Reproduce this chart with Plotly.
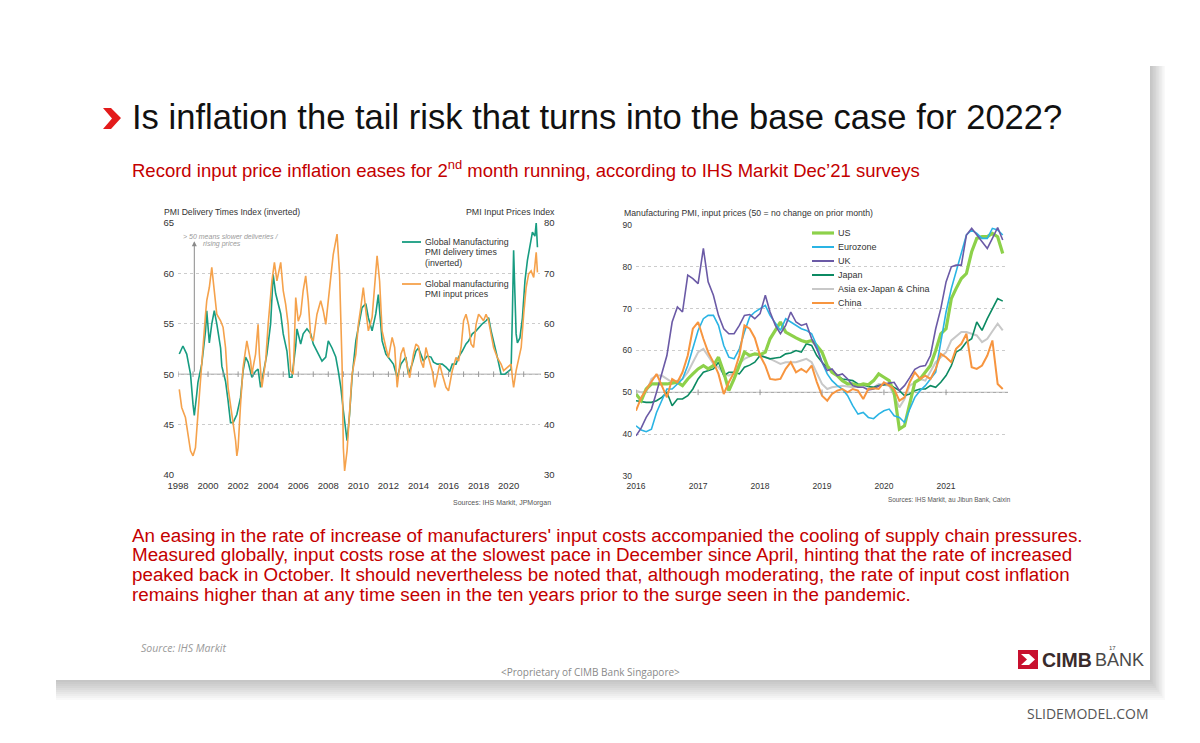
import plotly.graph_objects as go
import pandas as pd

W, H = 1200, 743


def px(x):
    return x / W


def py(y):
    return 1 - y / H


# ---------------- Left chart data (month offsets from Jan 1998) ----------------
left_start = "1998-01-01"
delivery_months = [1, 4, 7, 10, 12, 13, 15, 16, 19, 22,
                   23, 25, 27, 29, 31, 34, 35, 38, 40, 42,
                   44, 47, 50, 52, 54, 56, 59, 62, 64, 66,
                   68, 71, 74, 76, 78, 82, 84, 87, 89, 91,
                   94, 95, 98, 100, 103, 106, 108, 111, 115, 118,
                   120, 123, 126, 128, 130, 132, 134, 135, 137, 139,
                   142, 144, 147, 150, 152, 155, 158, 160, 161, 163,
                   166, 170, 172, 175, 178, 182, 184, 187, 190, 192,
                   194, 196, 199, 202, 204, 207, 211, 214, 217, 219,
                   222, 224, 227, 230, 232, 235, 238, 240, 243, 246,
                   248, 250, 252, 255, 258, 261, 264, 266, 267, 268,
                   269, 270, 271, 273, 275, 277, 279, 281, 283, 285,
                   286, 287]
delivery_values = [52.0, 52.8, 52.0, 50.0, 47.0, 45.9, 48.0, 49.2, 51.0, 54.3,
                   56.3, 53.1, 55.0, 56.3, 55.0, 52.6, 50.8, 49.3, 47.4, 45.2,
                   45.2, 46.0, 47.7, 50.3, 51.7, 51.2, 49.7, 50.3, 50.5, 48.7,
                   50.0, 52.0, 55.0, 59.9, 58.0, 56.0, 54.0, 52.3, 49.7, 49.7,
                   52.8, 54.5, 53.0, 54.0, 54.5, 54.0, 53.0, 52.3, 51.3, 51.7,
                   53.3, 52.6, 51.7, 50.3, 48.7, 46.4, 44.7, 43.4, 46.0, 49.7,
                   53.3, 54.6, 56.6, 57.0, 55.6, 54.3, 56.0, 57.9, 56.0, 53.3,
                   52.0, 51.3, 51.0, 49.7, 51.0, 51.7, 50.0, 51.0, 52.3, 52.6,
                   52.0, 51.3, 51.8, 51.7, 51.2, 51.0, 51.0, 50.7, 50.3, 51.0,
                   51.0, 51.7, 52.3, 53.0, 53.3, 54.0, 54.3, 54.6, 55.0, 55.3,
                   55.6, 54.3, 53.3, 51.7, 50.0, 50.0, 50.3, 50.5, 56.0, 62.3,
                   58.0, 54.0, 53.1, 53.6, 55.6, 59.3, 61.3, 62.7, 64.1, 63.7,
                   65.0, 62.6]
input_months = [1, 3, 6, 8, 10, 12, 14, 16, 18, 20,
                22, 23, 25, 27, 28, 30, 31, 34, 36, 38,
                40, 43, 46, 47, 48, 50, 52, 55, 58, 59,
                62, 64, 65, 67, 70, 72, 75, 77, 79, 82,
                84, 86, 88, 90, 92, 93, 94, 96, 98, 100,
                102, 104, 106, 108, 111, 114, 116, 118, 120, 122,
                124, 126, 127, 129, 131, 132, 133, 135, 137, 139,
                142, 144, 146, 148, 150, 152, 155, 157, 159, 161,
                163, 166, 168, 171, 173, 175, 178, 180, 183, 185,
                188, 190, 192, 194, 196, 198, 200, 203, 205, 207,
                209, 211, 214, 216, 219, 222, 224, 226, 228, 230,
                232, 234, 236, 238, 240, 242, 244, 246, 248, 250,
                252, 255, 258, 260, 263, 266, 267, 268, 270, 272,
                274, 276, 278, 280, 282, 284, 286, 287]
input_values = [47.0, 43.4, 41.4, 38.1, 34.8, 33.8, 35.4, 42.1, 49.3, 55.3,
                61.9, 64.6, 67.2, 71.2, 68.5, 64.6, 61.9, 60.6, 59.3, 55.3,
                47.4, 42.1, 36.8, 33.8, 35.4, 44.0, 51.3, 56.6, 52.6, 50.0,
                54.0, 59.9, 54.0, 47.4, 52.6, 59.9, 68.5, 72.2, 68.5, 72.2,
                66.6, 63.9, 59.9, 50.7, 50.0, 57.0, 65.2, 60.5, 61.9, 66.6,
                69.5, 64.6, 57.3, 56.6, 61.9, 64.6, 62.6, 59.9, 65.2, 69.2,
                73.8, 76.5, 77.8, 69.9, 52.0, 35.4, 30.8, 34.8, 42.1, 50.0,
                54.0, 59.9, 63.2, 67.2, 62.6, 58.6, 61.3, 68.5, 73.5, 68.5,
                58.6, 55.3, 53.3, 57.3, 55.3, 47.4, 54.0, 55.3, 51.3, 49.3,
                54.0, 56.0, 55.5, 52.6, 51.3, 55.3, 53.3, 50.7, 47.4, 50.0,
                52.0, 50.0, 47.4, 46.7, 50.7, 53.3, 52.6, 55.3, 60.6, 61.9,
                59.9, 56.0, 55.3, 59.9, 61.9, 61.3, 60.6, 61.9, 60.6, 57.9,
                55.3, 53.3, 52.0, 50.7, 51.3, 52.0, 49.3, 47.4, 50.7, 53.3,
                55.3, 61.9, 67.2, 69.9, 70.5, 69.2, 74.2, 70.2]
left_tick_years = [1998, 2000, 2002, 2004, 2006, 2008, 2010, 2012, 2014, 2016, 2018, 2020]
left_y_ticks = [40, 45, 50, 55, 60, 65]
right_axis_ticks = [30, 40, 50, 60, 70, 80]

# ---------------- Right chart data (monthly from Jan 2016) ----------------
right_start = "2016-01-01"
right_months = list(range(72))
us_values = [49.6, 48.0, 50.8, 52.0, 52.0, 52.0, 52.0, 52.2, 52.4, 51.6,
             53.2, 54.4, 55.6, 56.4, 55.6, 56.4, 58.4, 54.8, 50.4, 53.2,
             56.4, 59.6, 58.8, 59.2, 59.0, 59.6, 62.8, 65.0, 66.8, 64.4,
             63.6, 63.0, 62.4, 62.0, 62.4, 61.2, 59.6, 56.4, 54.8, 54.0,
             52.8, 52.0, 52.0, 51.6, 52.0, 51.8, 52.8, 54.4, 53.6, 52.8,
             50.0, 41.2, 42.0, 47.6, 52.4, 53.2, 54.8, 56.4, 60.0, 64.0,
             65.2, 72.4, 74.8, 77.2, 78.4, 83.6, 86.8, 87.2, 87.2, 88.0,
             87.2, 83.2]
eurozone_values = [42.0, 41.0, 40.6, 41.2, 45.2, 48.0, 50.8, 50.8, 52.0, 53.2,
                   56.4, 60.4, 64.8, 67.6, 68.4, 68.4, 66.0, 61.2, 58.4, 58.0,
                   60.4, 64.4, 68.0, 69.2, 70.0, 70.8, 68.4, 66.5, 64.8, 67.6,
                   66.8, 66.0, 65.2, 64.8, 64.0, 61.2, 57.2, 54.4, 52.8, 51.6,
                   50.8, 49.2, 46.8, 44.8, 45.2, 44.0, 43.7, 44.8, 45.6, 46.0,
                   44.4, 44.0, 42.8, 46.0, 48.8, 50.4, 51.6, 53.2, 54.8, 62.0,
                   69.2, 74.8, 78.8, 83.6, 87.6, 88.8, 88.0, 86.8, 86.8, 89.2,
                   88.8, 87.6]
uk_values = [39.6, 41.5, 44.0, 46.0, 50.0, 54.8, 58.8, 66.8, 70.4, 69.2,
             78.0, 77.2, 76.0, 84.4, 76.4, 73.2, 68.4, 65.2, 64.0, 64.0,
             66.0, 68.4, 68.6, 67.6, 68.8, 73.2, 69.2, 66.0, 64.0, 66.0,
             69.2, 66.8, 66.0, 66.4, 62.8, 60.4, 57.2, 55.2, 55.6, 54.0,
             54.4, 53.2, 51.6, 51.2, 51.2, 50.6, 50.8, 51.5, 52.0, 52.2,
             52.4, 50.4, 51.6, 53.5, 55.5, 56.2, 56.4, 58.8, 65.2, 70.0,
             76.4, 80.0, 80.4, 80.4, 87.6, 89.2, 87.6, 86.0, 84.4, 86.8,
             89.4, 86.4]
japan_values = [48.0, 47.8, 47.6, 47.6, 48.0, 48.8, 50.0, 46.8, 48.4, 48.4,
                49.2, 50.8, 53.2, 54.8, 55.2, 55.6, 57.2, 54.0, 54.8, 54.8,
                54.4, 56.0, 56.5, 57.2, 58.8, 58.4, 58.0, 58.2, 58.4, 59.2,
                59.4, 60.0, 59.6, 61.6, 61.2, 58.8, 57.2, 56.0, 54.8, 54.0,
                53.2, 53.0, 52.8, 52.0, 51.8, 51.4, 51.2, 51.6, 51.8, 52.0,
                51.2, 50.4, 49.2, 49.6, 50.4, 50.8, 50.8, 51.6, 51.2, 52.4,
                54.0, 56.4, 59.6, 60.4, 62.0, 62.8, 66.8, 64.8, 67.6, 70.0,
                72.4, 71.8]
asia_values = [50.4, 50.0, 50.0, 53.2, 54.0, 54.0, 53.2, 52.4, 52.8, 53.2,
               54.8, 57.2, 59.6, 60.4, 58.8, 56.8, 56.0, 54.4, 54.0, 54.8,
               56.8, 58.0, 58.6, 59.2, 58.8, 58.4, 58.0, 57.4, 56.8, 57.2,
               57.2, 57.2, 57.6, 58.0, 57.2, 54.8, 52.0, 50.8, 51.2, 51.4,
               51.6, 51.4, 51.2, 51.4, 51.6, 51.4, 51.2, 52.0, 51.8, 51.6,
               49.2, 46.4, 48.4, 51.6, 52.4, 53.2, 52.8, 54.8, 57.2, 58.4,
               59.6, 62.4, 63.4, 64.4, 64.4, 64.0, 63.6, 62.0, 62.8, 64.6,
               66.4, 64.8]
china_values = [45.6, 48.8, 50.6, 52.4, 54.4, 51.6, 48.8, 53.2, 52.4, 54.8,
                58.8, 65.2, 66.8, 62.8, 59.6, 57.2, 54.4, 49.6, 52.4, 54.8,
                58.8, 66.0, 65.2, 63.0, 58.8, 56.4, 53.2, 53.0, 53.2, 55.6,
                57.2, 54.8, 55.6, 54.8, 56.4, 52.5, 49.2, 48.0, 49.6, 50.4,
                50.8, 50.0, 50.8, 50.4, 48.4, 50.8, 51.0, 50.8, 52.4, 51.6,
                50.8, 48.0, 48.8, 52.4, 54.8, 53.2, 54.0, 53.2, 55.6, 59.2,
                58.4, 57.2, 60.4, 61.6, 64.0, 56.0, 55.6, 56.4, 58.8, 62.4,
                52.0, 50.8]
right_tick_years = [2016, 2017, 2018, 2019, 2020, 2021]
right_y_ticks = [30, 40, 50, 60, 70, 80, 90]

right_series = [
    ("Asia ex-Japan & China", asia_values, "#c8c8c8", 2.0),
    ("Japan", japan_values, "#0b8a62", 1.6),
    ("US", us_values, "#8dd14a", 3.2),
    ("Eurozone", eurozone_values, "#2ab4e4", 1.6),
    ("UK", uk_values, "#6b5aa6", 1.6),
    ("China", china_values, "#f7953f", 2.0),
]
legend_order = ["US", "Eurozone", "UK", "Japan", "Asia ex-Japan & China", "China"]

GREEN = "#179c81"
ORANGE = "#f5a24c"
RED = "#c40000"
FONT = "Liberation Sans, Arial, sans-serif"


def to_dates(start, months):
    base = pd.Timestamp(start)
    return [base + pd.DateOffset(months=int(m)) for m in months]


fig = go.Figure()

# ---- left chart traces ----
fig.add_trace(go.Scatter(x=to_dates(left_start, delivery_months), y=delivery_values,
                         mode="lines", line=dict(color=GREEN, width=1.6),
                         xaxis="x", yaxis="y", name="delivery"))
fig.add_trace(go.Scatter(x=to_dates(left_start, input_months), y=input_values,
                         mode="lines", line=dict(color=ORANGE, width=1.6),
                         xaxis="x", yaxis="y2", name="input"))
fig.add_trace(go.Scatter(x=[pd.Timestamp(f"{y}-01-01") for y in range(1998, 2022)],
                         y=[50] * 24, mode="markers", xaxis="x", yaxis="y",
                         marker=dict(symbol="line-ns-open", size=4, color="#999",
                                     line=dict(width=1, color="#999")),
                         hoverinfo="skip"))

# ---- right chart traces ----
rdates = to_dates(right_start, right_months)
for name, vals, col, w in right_series:
    fig.add_trace(go.Scatter(x=rdates, y=vals, mode="lines", name=name,
                             line=dict(color=col, width=w), xaxis="x2", yaxis="y3"))
fig.add_trace(go.Scatter(x=[pd.Timestamp(f"{y}-01-01") for y in right_tick_years],
                         y=[50] * len(right_tick_years), mode="markers", xaxis="x2", yaxis="y3",
                         marker=dict(symbol="line-ns-open", size=4, color="#999",
                                     line=dict(width=1, color="#999")),
                         hoverinfo="skip"))

shapes = []
# slide shadow + card
for k in range(1, 11):
    shapes.append(dict(type="rect", xref="paper", yref="paper", layer="below",
                       x0=px(56), x1=px(1150 + k * 1.5), y0=py(680 + k * 2.0), y1=py(66),
                       line=dict(width=0), fillcolor="rgba(0,0,0,0.022)"))
shapes.append(dict(type="rect", xref="paper", yref="paper", layer="below",
                   x0=px(52), x1=px(1150), y0=py(680), y1=py(62),
                   line=dict(width=0), fillcolor="white"))
# 50 reference lines
shapes.append(dict(type="line", xref="paper", yref="y", x0=px(178), x1=px(541), y0=50, y1=50,
                   layer="below", line=dict(color="#9a9a9a", width=1)))
shapes.append(dict(type="line", xref="paper", yref="y3", x0=px(637), x1=px(1008), y0=50, y1=50,
                   layer="below", line=dict(color="#9a9a9a", width=1)))
# bullet chevron
chev = [(103, 108), (111, 108), (121, 118), (111, 129), (103, 129), (112, 118.5)]
path = "M " + " L ".join(f"{px(a)},{py(b)}" for a, b in chev) + " Z"
shapes.append(dict(type="path", xref="paper", yref="paper", path=path,
                   fillcolor="#e31b1b", line=dict(width=0)))
# left legend samples
shapes.append(dict(type="line", xref="paper", yref="paper", x0=px(402), x1=px(421),
                   y0=py(242), y1=py(242), line=dict(color=GREEN, width=1.8)))
shapes.append(dict(type="line", xref="paper", yref="paper", x0=px(402), x1=px(421),
                   y0=py(284), y1=py(284), line=dict(color=ORANGE, width=1.8)))
# right legend samples
style = {n: (c, w) for n, _, c, w in right_series}
for i, n in enumerate(legend_order):
    yy = 233 + i * 14
    c, w = style[n]
    shapes.append(dict(type="line", xref="paper", yref="paper", x0=px(812), x1=px(834),
                       y0=py(yy), y1=py(yy), line=dict(color=c, width=max(w, 2))))
# CIMB logo square
shapes.append(dict(type="rect", xref="paper", yref="paper", x0=px(1018), x1=px(1038),
                   y0=py(669), y1=py(650), fillcolor="#c8102e", line=dict(width=0)))
logo = [(1021, 654), (1029, 654), (1035, 659.5), (1029, 665), (1021, 665), (1027, 659.5)]
shapes.append(dict(type="path", xref="paper", yref="paper",
                   path="M " + " L ".join(f"{px(a)},{py(b)}" for a, b in logo) + " Z",
                   fillcolor="white", line=dict(width=0)))

ann = []


def txt(x, y, s, size, color="#333", xanchor="left", yanchor="middle", family=FONT, **kw):
    ann.append(dict(x=px(x), y=py(y), xref="paper", yref="paper", text=s, showarrow=False,
                    xanchor=xanchor, yanchor=yanchor,
                    font=dict(size=size, color=color, family=family), **kw))


# title & subtitle
txt(130, 117, "Is inflation the tail risk that turns into the base case for 2022?", 34.6,
    color="#111")
txt(130, 169, "Record input price inflation eases for 2<sup>nd</sup> month running, according to IHS Markit Dec’21 surveys",
    18.5, color=RED)

# left chart texts
txt(162, 212, "PMI Delivery Times Index (inverted)", 8.6, color="#333")
txt(557, 212, "PMI Input Prices Index", 8.8, color="#333", xanchor="right")
txt(553, 503, "Sources: IHS Markit, JPMorgan", 7, color="#555", xanchor="right")
txt(230, 236, "<i>&gt; 50 means slower deliveries /</i>", 7, color="#9a9a9a", xanchor="center")
txt(222, 244, "<i>rising prices</i>", 7, color="#9a9a9a", xanchor="center")
for i, line in enumerate(["Global Manufacturing", "PMI delivery times", "(inverted)"]):
    txt(423, 242 + i * 10.5, line, 8.8, color="#333")
for i, line in enumerate(["Global manufacturing", "PMI input prices"]):
    txt(423, 284 + i * 10.5, line, 8.8, color="#333")
# arrow
ann.append(dict(x=pd.Timestamp("1999-02-01"), y=63.2, xref="x", yref="y",
                ax=pd.Timestamp("1999-02-01"), ay=50, axref="x", ayref="y",
                text=" ", showarrow=True, arrowhead=2, arrowsize=1, arrowwidth=1,
                arrowcolor="#8a8a8a", font=dict(size=2)))

# right chart texts
txt(622, 213, "Manufacturing PMI, input prices (50 = no change on prior month)", 8.7, color="#333")
txt(1013, 499, "Sources: IHS Markit, au Jibun Bank, Caixin", 6.4, color="#555", xanchor="right")
for i, n in enumerate(legend_order):
    txt(836, 233 + i * 14, n, 9, color="#333")

# paragraph
para = [
    "An easing in the rate of increase of manufacturers' input costs accompanied the cooling of supply chain pressures.",
    "Measured globally, input costs rose at the slowest pace in December since April, hinting that the rate of increased",
    "peaked back in October. It should nevertheless be noted that, although moderating, the rate of input cost inflation",
    "remains higher than at any time seen in the ten years prior to the surge seen in the pandemic.",
]
for i, line in enumerate(para):
    txt(130, 535 + i * 19.8, line, 18.8, color=RED)

# footer
txt(139, 648, "<i>Source: IHS Markit</i>", 10.5, color="#9a9a9a", family="Open Sans, sans-serif")
txt(590, 672, "&lt;Proprietary of CIMB Bank Singapore&gt;", 10, color="#8a8a8a",
    xanchor="center", family="Open Sans, sans-serif")
txt(1040, 660, "<b>CIMB</b>", 19.5, color="#3a2b2b", family=FONT)
txt(1093, 660, "BANK", 18, color="#4a4a4a", family=FONT)
txt(1112, 648, "17", 6, color="#4a4a4a", xanchor="center")
txt(1151, 713, "SLIDEMODEL.COM", 14, color="#555", xanchor="right", family="Open Sans, sans-serif")

tickfont = dict(size=9.5, color="#333", family=FONT)
fig.update_layout(
    width=W, height=H, margin=dict(l=0, r=0, t=0, b=0, pad=0, autoexpand=False), autosize=False,
    paper_bgcolor="white", plot_bgcolor="rgba(0,0,0,0)", showlegend=False,
    font=dict(family=FONT, color="#333"),
    shapes=shapes, annotations=ann,
    xaxis=dict(domain=[px(178), px(540)], anchor="y", type="date", automargin=False,
               range=[pd.Timestamp("1998-01-01"), pd.Timestamp("2022-02-01")],
               tickmode="array", tickvals=[pd.Timestamp(f"{y}-01-01") for y in left_tick_years],
               ticktext=[str(y) for y in left_tick_years], showgrid=False, zeroline=False,
               showline=False, ticks="", tickfont=tickfont, ticklabelstandoff=3),
    yaxis=dict(domain=[py(475), py(223)], anchor="x", range=[40, 65], tickvals=left_y_ticks,
               automargin=False,
               showgrid=True, gridcolor="#cccccc", griddash="dot", gridwidth=1,
               zeroline=False, showline=False, ticks="", tickfont=tickfont, ticklabelstandoff=3),
    yaxis2=dict(domain=[py(475), py(223)], anchor="x", overlaying="y", side="right",
                automargin=False,
                range=[30, 80], tickvals=right_axis_ticks, showgrid=False, zeroline=False,
                showline=False, ticks="", tickfont=tickfont, ticklabelstandoff=3),
    xaxis2=dict(domain=[px(636), px(1008)], anchor="y3", type="date", automargin=False,
                range=[pd.Timestamp("2016-01-01"), pd.Timestamp("2022-01-01")],
                tickmode="array", tickvals=[pd.Timestamp(f"{y}-01-01") for y in right_tick_years],
                ticktext=[str(y) for y in right_tick_years], showgrid=False, zeroline=False,
                showline=False, ticks="", tickfont=dict(size=8.5, color="#333", family=FONT),
                ticklabelstandoff=3),
    yaxis3=dict(domain=[py(476), py(225)], anchor="x2", range=[30, 90], tickvals=right_y_ticks,
                automargin=False,
                showgrid=True, gridcolor="#cccccc", griddash="dot", gridwidth=1,
                zeroline=False, showline=False, ticks="",
                tickfont=dict(size=8.5, color="#333", family=FONT), ticklabelstandoff=3),
)

post = (
    "var s=document.createElement('style');"
    "s.innerHTML='html,body{margin:0 !important;padding:0 !important;overflow:hidden !important;}';"
    "document.head.appendChild(s);"
)
fig.write_html("out.html", config={"displayModeBar": False, "responsive": False}, post_script=post)
